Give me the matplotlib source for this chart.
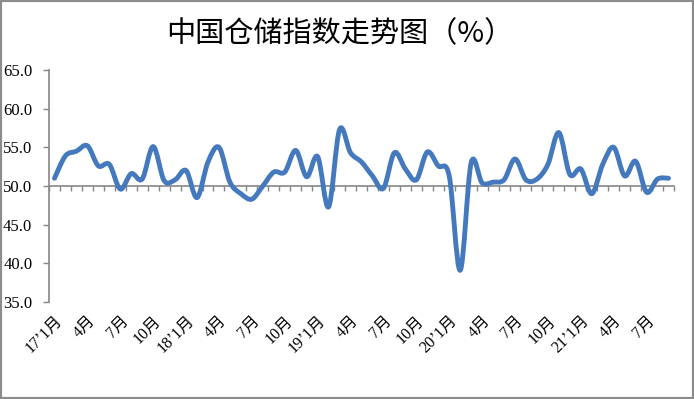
import matplotlib
matplotlib.use("Agg")
import matplotlib.pyplot as plt
from matplotlib.path import Path
from matplotlib.patches import PathPatch, Rectangle

# ---- data ----
values = [51.0, 53.9, 54.5, 55.2, 52.6, 52.8, 49.6, 51.6, 50.9, 55.1,
          50.7, 50.8, 52.0, 48.5, 53.1, 55.0, 50.5, 49.0, 48.3, 50.0,
          51.8, 51.8, 54.6, 51.2, 53.8, 47.3, 57.3, 54.3, 53.1, 51.3,
          49.7, 54.3, 52.2, 50.8, 54.4, 52.6, 51.3, 39.1, 53.0, 50.4,
          50.5, 50.8, 53.5, 50.8, 50.9, 52.8, 56.9, 51.5, 52.2, 49.0,
          52.8, 55.0, 51.3, 53.2, 49.2, 50.9, 51.0]
tick_labels = ["17’1月", "4月", "7月", "10月",
               "18’1月", "4月", "7月", "10月",
               "19’1月", "4月", "7月", "10月",
               "20’1月", "4月", "7月", "10月",
               "21’1月", "4月", "7月"]
label_step = 3
y_ticks = [35, 40, 45, 50, 55, 60, 65]
title = "中国仓储指数走势图（%）"

W, H = 694, 399
fig = plt.figure(figsize=(W / 100, H / 100), dpi=100)
ax = fig.add_axes([49 / W, 1 - 302 / H, (674 - 49) / W, (302 - 70) / H])

n = len(values)
xs = list(range(n))

# smooth line (Excel-like Catmull-Rom bezier through the data points)
pts = list(zip(xs, values))
verts = [pts[0]]
codes = [Path.MOVETO]
for i in range(n - 1):
    p0 = pts[i - 1] if i > 0 else pts[i]
    p1 = pts[i]
    p2 = pts[i + 1]
    p3 = pts[i + 2] if i + 2 < n else pts[i + 1]
    c1 = (p1[0] + (p2[0] - p0[0]) / 6, p1[1] + (p2[1] - p0[1]) / 6)
    c2 = (p2[0] - (p3[0] - p1[0]) / 6, p2[1] - (p3[1] - p1[1]) / 6)
    verts += [c1, c2, p2]
    codes += [Path.CURVE4] * 3
patch = PathPatch(Path(verts, codes), facecolor="none", edgecolor="#4479BE",
                  lw=3.5, capstyle="round", joinstyle="round", zorder=3)
ax.add_patch(patch)

ax.set_xlim(-0.5, n - 0.5)
ax.set_ylim(35, 65)

axis_col = "#868686"
for s in ["top", "right"]:
    ax.spines[s].set_visible(False)
ax.spines["left"].set_color(axis_col)
ax.spines["left"].set_linewidth(1.2)
ax.spines["bottom"].set_position(("data", 50))
ax.spines["bottom"].set_color(axis_col)
ax.spines["bottom"].set_linewidth(1.2)

ax.set_yticks(y_ticks)
ax.set_yticklabels([f"{v:.1f}" for v in y_ticks], family=["Liberation Serif"], fontsize=12)
ax.tick_params(axis="y", direction="out", length=4, width=1, color=axis_col, pad=8)

# x ticks at category boundaries on the 50 line
ax.set_xticks([k - 0.5 for k in range(n + 1)])
ax.set_xticklabels([])
ax.tick_params(axis="x", direction="out", length=3.5, width=1, color=axis_col)

# category labels at the bottom of the plot area
sec = ax.secondary_xaxis("bottom")
sec.spines["bottom"].set_visible(False)
sec.set_xticks(xs[::label_step])
sec.set_xticklabels(tick_labels, family=["Liberation Serif", "Noto Sans CJK SC"],
                    fontsize=11.5, rotation=45, ha="right", rotation_mode="anchor")
sec.tick_params(axis="x", length=0, pad=8)

fig.text(340 / W, 1 - 34 / H, title, ha="center", va="center",
         fontsize=21, family=["Noto Sans CJK SC"], color="black")

fig.add_artist(Rectangle((0, 0), 1, 1, transform=fig.transFigure, fill=False,
                         edgecolor="#8C8C8C", lw=3, clip_on=False))

fig.savefig("out.png", dpi=100, facecolor="white")
